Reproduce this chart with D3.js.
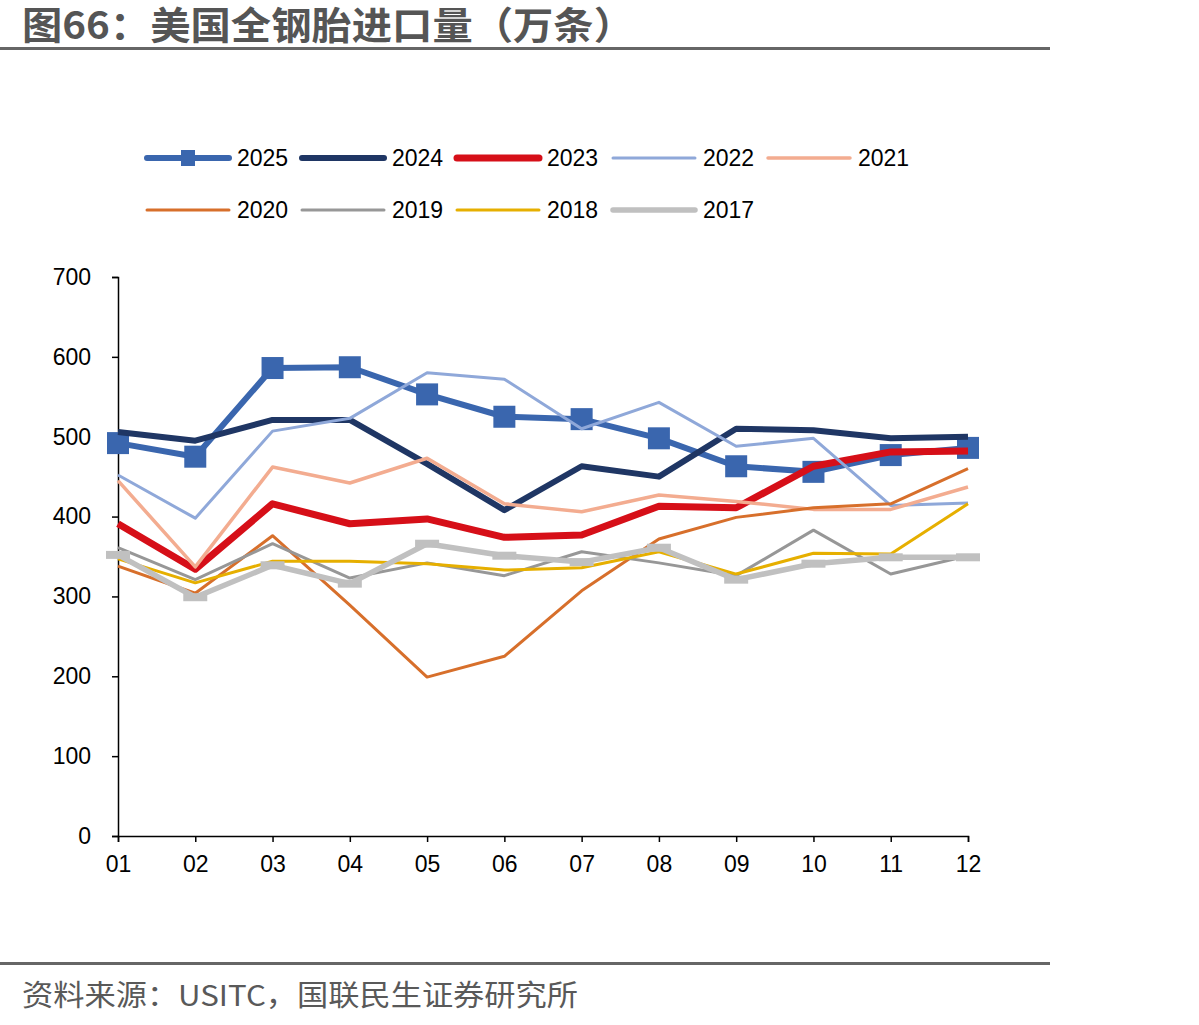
<!DOCTYPE html>
<html>
<head>
<meta charset="utf-8">
<script src="https://cdn.jsdelivr.net/npm/d3@7"></script>
<style>
  body { margin: 0; background: #fff; }
  svg text { font-family: "Liberation Sans", Arial, sans-serif; }
  .cjk { font-family: "Noto Sans CJK SC", sans-serif; }
</style>
</head>
<body>
<div id="chart"></div>
<script>
// Months on the x axis
const months = ["01", "02", "03", "04", "05", "06", "07", "08", "09", "10", "11", "12"];
const yTicks = [0, 100, 200, 300, 400, 500, 600, 700];

// Monthly imports, 10k tyres
const s2025 = [492, 475, 586, 587, 553, 525, 522, 498, 463, 456, 477, 486];
const s2024 = [506, 495, 521, 521, 466, 408, 463, 450, 510, 508, 498, 500];
const s2023 = [391, 334, 416, 391, 397, 374, 377, 413, 411, 463, 481, 482];
const s2022 = [452, 398, 507, 523, 580, 572, 510, 543, 488, 498, 414, 417];
const s2021 = [445, 337, 462, 442, 473, 416, 406, 427, 419, 409, 409, 437];
const s2020 = [338, 304, 376, 289, 199, 225, 307, 372, 399, 411, 416, 460];
const s2019 = [361, 321, 366, 323, 342, 326, 356, 342, 326, 383, 328, 351];
const s2018 = [347, 317, 344, 344, 341, 333, 336, 356, 328, 354, 353, 416];
const s2017 = [352, 299, 339, 316, 366, 351, 343, 361, 321, 341, 349, 349];

const series = [
    { name: "2025", values: s2025, color: "#3A66AE", width: 6, marker: "square" },
    { name: "2024", values: s2024, color: "#1F3664", width: 6 },
    { name: "2023", values: s2023, color: "#D60F18", width: 7 },
    { name: "2022", values: s2022, color: "#8FA8D9", width: 3 },
    { name: "2021", values: s2021, color: "#F3AC90", width: 3.5 },
    { name: "2020", values: s2020, color: "#D76F2B", width: 3 },
    { name: "2019", values: s2019, color: "#979797", width: 3 },
    { name: "2018", values: s2018, color: "#E6AF00", width: 3 },
    { name: "2017", values: s2017, color: "#C0C0C0", width: 5.5, marker: "dash" }
];

const width = 1199, height = 1025;
const margin = { left: 118, right: 231, top: 277, bottom: 189 };
const innerWidth = width - margin.left - margin.right;
const innerHeight = height - margin.top - margin.bottom;

const svg = d3.select("#chart").append("svg")
    .attr("width", width)
    .attr("height", height);

// Title and rules
svg.append("text")
    .attr("class", "cjk")
    .attr("x", 22)
    .attr("y", 39)
    .style("font-size", "38px")
    .style("font-weight", "bold")
    .attr("fill", "#555555")
    .attr("textLength", 612)
    .attr("lengthAdjust", "spacingAndGlyphs")
    .text("图66：美国全钢胎进口量（万条）");

svg.append("rect").attr("x", 0).attr("y", 47).attr("width", 1050).attr("height", 3).attr("fill", "#666");
svg.append("rect").attr("x", 0).attr("y", 962).attr("width", 1050).attr("height", 3).attr("fill", "#666");

svg.append("text")
    .attr("class", "cjk")
    .attr("x", 22)
    .attr("y", 1006)
    .style("font-size", "29px")
    .attr("fill", "#595959")
    .attr("textLength", 556)
    .attr("lengthAdjust", "spacingAndGlyphs")
    .text("资料来源：USITC，国联民生证券研究所");

const innerChart = svg.append("g")
    .attr("transform", `translate(${margin.left},${margin.top})`);

const xScale = d3.scalePoint()
    .domain(months)
    .range([0, innerWidth]);

const yScale = d3.scaleLinear()
    .domain([0, 700])
    .range([innerHeight, 0]);

// Axes
const bottomAxis = d3.axisBottom(xScale).tickSize(6).tickPadding(14);
const xAxis = innerChart.append("g")
    .attr("transform", `translate(0,${innerHeight})`)
    .call(bottomAxis);

const leftAxis = d3.axisLeft(yScale).tickValues(yTicks).tickSize(6).tickPadding(21);
const yAxis = innerChart.append("g").call(leftAxis);

[xAxis, yAxis].forEach(ax => {
    ax.select(".domain").attr("stroke", "#000").attr("stroke-width", 1.5);
    ax.selectAll(".tick line").attr("stroke", "#000").attr("stroke-width", 1.5);
    ax.selectAll("text")
        .style("font-size", "23px")
        .attr("fill", "#000")
        .style("font-family", "'Liberation Sans', Arial, sans-serif");
});

// Lines
const line = d3.line()
    .x((d, i) => xScale(months[i]))
    .y(d => yScale(d));

series.forEach(s => {
    innerChart.append("path")
        .datum(s.values)
        .attr("fill", "none")
        .attr("stroke", s.color)
        .attr("stroke-width", s.width)
        .attr("stroke-linejoin", "round")
        .attr("d", line);

    if (s.marker === "square") {
        innerChart.selectAll(null)
            .data(s.values)
            .join("rect")
            .attr("x", (d, i) => xScale(months[i]) - 11)
            .attr("y", d => yScale(d) - 11)
            .attr("width", 22)
            .attr("height", 22)
            .attr("fill", s.color);
    } else if (s.marker === "dash") {
        innerChart.selectAll(null)
            .data(s.values)
            .join("rect")
            .attr("x", (d, i) => xScale(months[i]) - 12)
            .attr("y", d => yScale(d) - 4)
            .attr("width", 24)
            .attr("height", 8)
            .attr("fill", s.color);
    }
});

// Legend, two rows
const legendPos = [
    [147, 158], [302, 158], [457, 158], [613, 158], [768, 158],
    [147, 210], [302, 210], [457, 210], [613, 210]
];
const legend = svg.append("g");
series.forEach((s, i) => {
    const [lx, ly] = legendPos[i];
    legend.append("line")
        .attr("x1", lx).attr("x2", lx + 82)
        .attr("y1", ly).attr("y2", ly)
        .attr("stroke", s.color)
        .attr("stroke-width", s.width)
        .attr("stroke-linecap", "round");
    if (s.marker === "square") {
        legend.append("rect")
            .attr("x", lx + 34).attr("y", ly - 8)
            .attr("width", 14).attr("height", 16)
            .attr("fill", s.color);
    }
    legend.append("text")
        .attr("x", lx + 90)
        .attr("y", ly + 8)
        .style("font-size", "23px")
        .attr("fill", "#000")
        .text(s.name);
});
</script>
</body>
</html>
